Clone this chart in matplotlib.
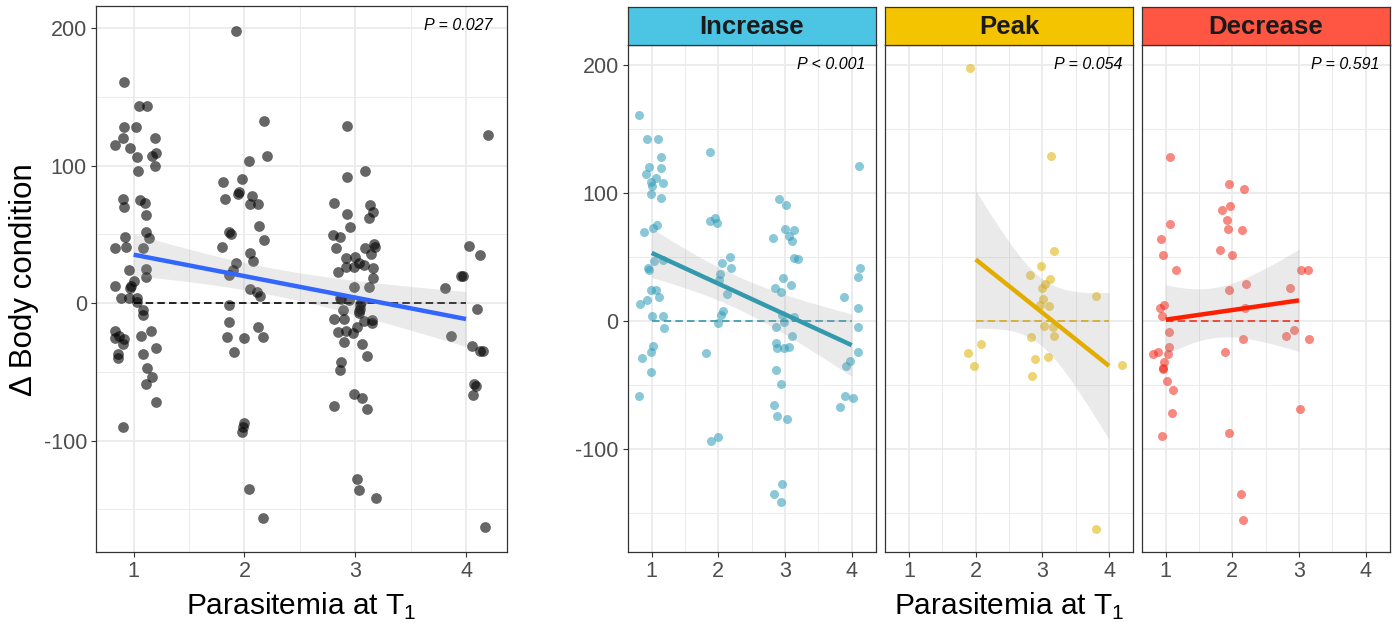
import numpy as np
import matplotlib
matplotlib.use("Agg")
import matplotlib.pyplot as plt

plt.rcParams['font.family'] = ['Liberation Sans', 'DejaVu Sans']
plt.rcParams['mathtext.fontset'] = 'custom'
plt.rcParams['mathtext.rm'] = 'Liberation Sans'
plt.rcParams['axes.unicode_minus'] = False

# ---- data (jittered x, delta body condition) ----
# left panel: all birds pooled
left_x = [0.916, 1.05, 1.12, 0.91, 1.02, 0.90, 1.19, 0.835, 0.97, 1.03, 1.165, 1.20, 1.04, 1.19,
          0.90, 0.91, 1.06, 1.10, 1.11, 1.11, 1.14, 0.92, 0.83, 0.93, 1.08, 0.96, 1.11, 1.11,
          0.83, 1.0, 0.98, 0.97, 0.89, 0.96, 1.03, 1.03, 1.08, 1.08, 0.83, 0.83, 0.87, 0.91,
          0.90, 0.86, 0.86, 1.07, 1.16, 1.20, 1.08, 1.12, 1.17, 1.11, 1.20, 0.90,
          1.925, 2.18, 2.20, 2.04, 1.98, 1.81, 1.82, 1.95, 1.94, 2.07, 2.05, 2.12, 2.135, 2.18,
          1.86, 1.88, 1.80, 2.05, 2.075, 1.92, 1.90, 1.86, 2.05, 2.11, 2.14, 1.86, 1.865, 1.84,
          2.00, 2.12, 2.17, 1.91, 2.0, 1.99, 1.98, 2.04, 2.17,
          2.925, 2.93, 3.09, 2.81, 2.925, 3.135, 3.16, 3.12, 2.95, 2.80, 2.86, 2.83, 3.09, 3.17,
          3.18, 3.14, 2.92, 3.0, 3.03, 3.08, 2.92, 2.99, 2.84, 3.16, 3.16, 2.99, 3.125, 2.86,
          2.87, 2.94, 3.05, 3.04, 3.04, 2.89, 2.81, 2.895, 2.84, 2.92, 2.98, 2.90, 3.02, 3.075,
          3.15, 3.15, 3.06, 3.11, 3.03, 3.03, 2.87, 2.86, 2.985, 3.06, 2.81, 3.11, 3.015, 3.03, 3.19,
          4.195, 4.03, 4.13, 3.81, 3.955, 3.97, 4.10, 3.86, 4.05, 4.13, 4.15, 4.07, 4.09, 4.06, 4.17]
left_y = [161, 143, 143, 128, 128, 120, 120, 115, 113, 106, 107, 109, 96, 100,
          76, 70, 75, 73, 64, 52, 47, 48, 40, 41, 40, 24, 25, 19,
          12.6, 16, 12.6, 10.7, 3.6, 4, 4, 0.5, -5.3, -8.7, -20.6, -25.7, -24, -26,
          -29.5, -37, -40, -23.7, -20.6, -32.7, -36.8, -47, -54, -58.6, -72, -90,
          198, 132.5, 107, 103, 90, 88, 76, 81, 79, 78, 72, 72, 56, 45.5,
          51.6, 50, 41, 36.6, 30.8, 29, 24, 20.6, 10, 8, 5, -1.5, -13.8, -24.7,
          -25.4, -17.2, -24.7, -35.6, -87, -90, -94, -135, -156,
          129, 91.6, 96, 72.4, 65, 71, 66, 62, 55, 49.4, 48.4, 40, 40, 43,
          41, 36, 33, 33.4, 29, 28, 26, 26, 22.5, 25.7, 18, 11.6, 12, 4,
          3, 2.4, 0.5, -1.7, -4, -4.8, -11.6, -11.6, -21, -20.6, -21.8, -28, -17.4, -12.8,
          -12, -14.5, -29.8, -38.8, -5.6, -7.3, -43, -49, -66, -69, -74.6, -76.8, -127.6, -135.6, -141.5,
          122, 41.4, 34.6, 10.7, 19.4, 19.4, -4.4, -23.7, -31, -34.6, -35, -58.6, -60.6, -67, -163]

inc_x = [0.81, 0.925, 1.10, 1.145, 0.965, 1.145, 0.91, 1.07, 0.99, 1.01, 1.17, 0.985, 1.145,
         0.88, 1.025, 1.085, 1.04, 1.17, 0.95, 0.955, 0.99, 1.07, 1.11, 0.935, 0.82, 1.01,
         1.175, 1.18, 1.02, 0.99, 0.86, 0.985, 0.815,
         1.88, 1.87, 1.95, 1.98, 2.17, 2.06, 2.19, 2.03, 2.01, 2.13, 2.07, 2.04, 2.0, 1.81, 1.89, 1.99,
         2.905, 3.015, 2.995, 3.14, 2.825, 3.055, 3.105, 3.135, 3.195, 2.97, 2.855, 3.085, 2.94,
         2.955, 2.99, 3.14, 2.865, 3.11, 2.86, 2.875, 2.99, 3.06, 2.87, 2.94, 2.835, 2.88, 3.03,
         2.955, 2.835, 2.94,
         4.11, 4.12, 4.10, 3.89, 4.10, 4.09, 4.09, 3.97, 3.92, 3.90, 4.02, 3.82]
inc_y = [161, 142, 142, 128, 120, 119.4, 115, 112, 109, 105.6, 107.5, 99.4, 96,
         69.5, 73, 75, 47, 47.4, 41, 40, 24.5, 24, 18.7, 16, 13, 3.6,
         4, -5.2, -20, -24, -29.4, -40, -58.5,
         132, 77.8, 80.7, 76.2, 50, 45.3, 41, 36.4, 32, 20.8, 7.8, 4.4, -2, -25.5, -93.7, -90.6,
         95.5, 91, 71.8, 70.8, 64.8, 66, 62.5, 49, 48.4, 33.3, 25.8, 27.8, 22.4,
         4.4, -0.8, 3, -4.7, -11.7, -17, -21.6, -21.6, -20.8, -38.8, -49, -66, -74.7, -76.8,
         -127.5, -135.3, -141.3,
         121.5, 41.4, 34.6, 18.7, 10, -4.7, -24, -31, -35, -59, -60.4, -67]

peak_x = [1.92, 3.135, 3.17, 2.98, 2.81, 3.11, 3.04, 3.0, 3.015, 3.81, 2.96, 3.10, 3.02, 3.155,
          3.17, 2.825, 2.08, 1.88, 1.98, 2.895, 3.08, 2.84, 4.20, 3.81]
peak_y = [197.5, 128.8, 54.6, 43, 35.6, 33, 29, 25.8, 17.4, 19.3, 12.2, 11.7, -3.9, -4.7,
          -12, -13, -17.7, -25, -35.4, -30.2, -28.6, -43.5, -34.9, -163]

dec_x = [1.06, 1.95, 2.17, 1.84, 1.96, 1.92, 1.94, 2.15, 1.065, 0.925, 0.96, 1.81, 2.0, 1.16,
         3.03, 3.13, 2.20, 1.95, 2.865, 2.195, 0.98, 0.91, 0.95, 1.05, 2.92, 2.80, 3.155, 2.16,
         1.055, 1.04, 0.885, 0.805, 1.89, 0.97, 0.955, 0.96, 1.025, 1.105, 1.10, 3.015, 0.95,
         1.95, 2.135, 2.16]
dec_y = [128, 107, 102.8, 87, 90, 78.8, 71.8, 71.3, 75.7, 64.3, 51.5, 55.7, 51.5, 39.6,
         39.8, 39.8, 28.6, 24.5, 25.5, 10.4, 12.8, 10.4, 3.6, -9, -6.8, -11.7, -14.3, -14,
         -20.3, -26, -24.2, -26, -24.7, -32.5, -36.7, -37.7, -47.4, -54, -72, -69, -90,
         -87.4, -135.3, -156]

groups = ['Increase', 'Peak', 'Decrease']
p_labels = ['P < 0.001', 'P = 0.054', 'P = 0.591']
p_all = 'P = 0.027'
strip_cols = ['#4BC5E3', '#F5C400', '#FF5644']
point_cols = ['#2A9BB8', '#E0B000', '#F2281A']
line_cols = ['#3399AD', '#E3AD00', '#FF1E00']


def t975(df):
    z = 1.959964
    g1 = (z**3 + z) / 4
    g2 = (5 * z**5 + 16 * z**3 + 3 * z) / 96
    g3 = (3 * z**7 + 19 * z**5 + 17 * z**3 - 15 * z) / 384
    return z + g1 / df + g2 / df**2 + g3 / df**3


def lm_band(xj, y):
    # linear fit on the un-jittered parasitemia class, like geom_smooth(method = "lm")
    x = np.round(np.asarray(xj))
    y = np.asarray(y, dtype=float)
    n = len(x)
    b, a = np.polyfit(x, y, 1)
    s = np.sqrt(np.sum((y - (a + b * x))**2) / (n - 2))
    sxx = np.sum((x - x.mean())**2)
    xs = np.linspace(x.min(), x.max(), 80)
    fit = a + b * xs
    se = s * np.sqrt(1 / n + (xs - x.mean())**2 / sxx)
    t = t975(n - 2)
    return xs, fit, fit - t * se, fit + t * se, x.min(), x.max()


W, H = 1397, 628
fig = plt.figure(figsize=(W / 100, H / 100), dpi=100)


def px_axes(l, t, r, b):
    return fig.add_axes([l / W, 1 - b / H, (r - l) / W, (b - t) / H])


def style(ax, xlim, show_y):
    ax.set_xlim(*xlim)
    ax.set_ylim(-181, 216)
    ax.set_xticks([1, 2, 3, 4])
    ax.set_xticks([1.5, 2.5, 3.5], minor=True)
    ax.set_yticks([-100, 0, 100, 200])
    ax.set_yticks([-150, -50, 50, 150], minor=True)
    ax.grid(which='major', color='#EBEBEB', lw=1.3, zorder=0)
    ax.grid(which='minor', color='#EBEBEB', lw=0.7, zorder=0)
    ax.set_axisbelow(True)
    for sp in ax.spines.values():
        sp.set_color('#333333')
        sp.set_linewidth(0.9)
    ax.tick_params(which='major', length=3.5, width=0.8, color='#333333',
                   labelsize=15.5, labelcolor='#4D4D4D', pad=3)
    ax.tick_params(which='minor', length=0)
    if not show_y:
        ax.tick_params(axis='y', which='major', length=0, labelleft=False)


# left pooled panel
ax0 = px_axes(96, 6, 507, 552)
style(ax0, (0.66, 4.37), True)
xs, fit, lo, hi, x0, x1 = lm_band(left_x, left_y)
ax0.plot([x0, x1], [0, 0], ls=(0, (4.5, 2.5)), color='black', lw=1.2, zorder=2)
ax0.scatter(left_x, left_y, s=60, color='black', alpha=0.6, lw=0, zorder=3)
ax0.fill_between(xs, lo, hi, color='#999999', alpha=0.2, lw=0, zorder=4)
ax0.plot(xs, fit, color='#3366FF', lw=3.2, zorder=5, solid_capstyle='butt')
ax0.text(0.965, 0.965, p_all, transform=ax0.transAxes, ha='right', va='center',
         fontsize=11.5, fontstyle='italic')

# three faceted panels
panel_l = [627.7, 885, 1141.7]
data = [(inc_x, inc_y), (peak_x, peak_y), (dec_x, dec_y)]
for i, g in enumerate(groups):
    l = panel_l[i]
    r = l + 248
    ax = px_axes(l, 44.7, r, 552.3)
    style(ax, (0.64, 4.36), i == 0)
    gx, gy = data[i]
    xs, fit, lo, hi, x0, x1 = lm_band(gx, gy)
    ax.plot([x0, x1], [0, 0], ls=(0, (4.5, 2.5)), color=line_cols[i], lw=1.2, zorder=2)
    ax.scatter(gx, gy, s=42, color=point_cols[i], alpha=0.55, lw=0, zorder=3)
    ax.fill_between(xs, lo, hi, color='#999999', alpha=0.2, lw=0, zorder=4)
    ax.plot(xs, fit, color=line_cols[i], lw=3.2, zorder=5, solid_capstyle='butt')
    ax.text(0.958, 0.961, p_labels[i], transform=ax.transAxes, ha='right', va='center',
            fontsize=11.5, fontstyle='italic')

    sax = px_axes(l, 6.7, r, 44.7)
    sax.set_facecolor(strip_cols[i])
    sax.set_xticks([])
    sax.set_yticks([])
    for sp in sax.spines.values():
        sp.set_color('#333333')
        sp.set_linewidth(0.9)
    sax.text(0.5, 0.47, g, transform=sax.transAxes, ha='center', va='center',
             fontsize=18.5, fontweight='bold', color='#1A1A1A')

xlab = 'Parasitemia at T$_\\mathregular{1}$'
fig.text(301.5 / W, 1 - 615 / H, xlab, ha='center', va='baseline', fontsize=21.5)
fig.text(1009 / W, 1 - 615 / H, xlab, ha='center', va='baseline', fontsize=21.5)
fig.text(24 / W, 1 - 280 / H, '\u0394 Body condition', rotation=90, ha='center',
         va='center', fontsize=22.5)

fig.savefig('out.png', dpi=100)
